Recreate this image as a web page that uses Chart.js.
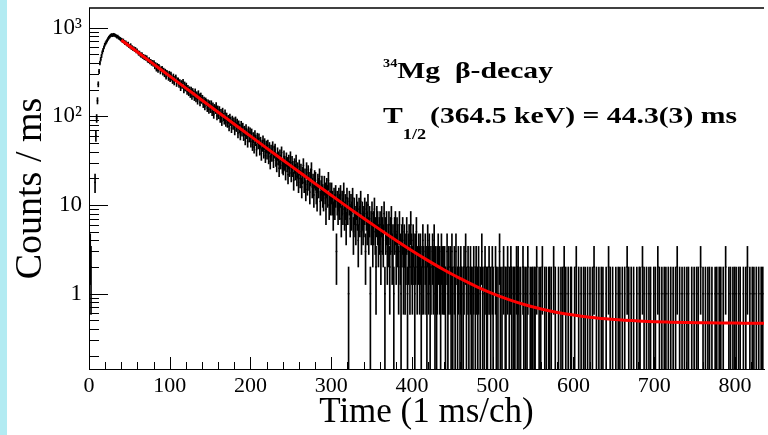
<!DOCTYPE html>
<html>
<head>
<meta charset="utf-8">
<script src="https://cdn.jsdelivr.net/npm/chart.js@4.4.1/dist/chart.umd.min.js"></script>
<style>
    html, body { margin: 0; padding: 0; background: #fff; }
    #wrap { position: relative; width: 768px; height: 435px; background: #b2ebf2; overflow: hidden; }
    #decayChart { position: absolute; left: 7px; top: 0; background: #fff; }
</style>
</head>
<body>
<div id="wrap"><canvas id="decayChart" width="761" height="435"></canvas></div>
<script>
"use strict";

// counts per 1 ms channel, channel 0 .. 835
var countsPerMs = [
    3, 3, 2, 0, 0, 0, 0, 18, 60, 95,
    150, 230, 320, 400, 440, 480, 525, 560, 600, 640,
    665, 690, 715, 745, 770, 790, 810, 822, 830, 818,
    834, 826, 815, 808, 790, 795, 772, 760, 748, 735,
    731, 702, 718, 690, 668, 684, 655, 641, 662, 620,
    612, 634, 590, 601, 572, 585, 560, 574, 541, 552,
    528, 509, 521, 496, 484, 502, 470, 478, 455, 468,
    447, 461, 430, 422, 438, 409, 418, 395, 407, 386,
    405, 362, 384, 341, 375, 330, 366, 352, 318, 340,
    348, 309, 331, 296, 322, 278, 312, 301, 270, 305,
    262, 298, 271, 250, 283, 241, 266, 276, 232, 255,
    255, 226, 243, 209, 238, 221, 246, 198, 229, 207,
    222, 190, 209, 184, 201, 176, 199, 168, 192, 180,
    163, 190, 158, 176, 149, 181, 166, 143, 170, 152,
    160, 137, 152, 129, 149, 143, 124, 141, 119, 138,
    121, 138, 112, 130, 105, 125, 118, 131, 101, 120,
    104, 118, 95, 109, 88, 113, 99, 91, 108, 86,
    99, 84, 93, 77, 96, 88, 74, 91, 80, 87,
    70, 89, 76, 84, 65, 80, 73, 62, 79, 68,
    75, 61, 69, 55, 72, 64, 52, 68, 59, 66,
    52, 64, 48, 58, 45, 61, 54, 42, 57, 50,
    56, 43, 51, 38, 47, 53, 40, 49, 36, 46,
    39, 47, 35, 44, 31, 41, 37, 45, 32, 40,
    42, 33, 29, 38, 34, 26, 36, 31, 39, 28,
    27, 35, 30, 24, 33, 29, 22, 31, 26, 34,
    23, 30, 26, 19, 28, 24, 31, 21, 25, 18,
    27, 20, 24, 16, 22, 28, 18, 21, 15, 25,
    17, 23, 19, 14, 21, 25, 16, 18, 13, 20,
    19, 14, 12, 18, 16, 21, 11, 15, 17, 13,
    12, 17, 14, 9, 16, 13, 19, 10, 14, 11,
    14, 11, 8, 12, 10, 13, 3, 11, 9, 12,
    10, 13, 7, 11, 9, 14, 8, 10, 6, 12,
    9, 1, 11, 7, 10, 8, 12, 5, 9, 7,
    6, 10, 8, 4, 9, 7, 11, 5, 8, 6,
    7, 9, 3, 8, 6, 10, 5, 7, 1, 6,
    8, 4, 6, 9, 5, 2, 7, 6, 4, 5,
    6, 3, 7, 5, 4, 8, 1, 5, 6, 3,
    4, 6, 2, 5, 7, 3, 4, 1, 5, 6,
    3, 5, 4, 2, 6, 3, 1, 4, 5, 2,
    4, 2, 3, 5, 1, 3, 4, 2, 6, 3,
    2, 4, 3, 1, 3, 5, 2, 0, 3, 2,
    3, 1, 2, 4, 2, 0, 3, 2, 1, 4,
    2, 3, 1, 2, 0, 3, 2, 4, 1, 2,
    1, 2, 3, 0, 2, 1, 3, 2, 0, 2,
    2, 1, 0, 3, 1, 2, 0, 2, 1, 3,
    1, 0, 2, 1, 3, 0, 1, 2, 0, 1,
    2, 1, 0, 1, 2, 0, 3, 1, 0, 2,
    1, 0, 2, 1, 0, 1, 2, 0, 1, 2,
    0, 1, 2, 0, 1, 0, 3, 1, 0, 1,
    2, 0, 1, 1, 0, 2, 0, 1, 0, 2,
    1, 0, 0, 2, 1, 0, 1, 0, 3, 1,
    0, 1, 0, 2, 0, 1, 1, 0, 2, 0,
    1, 0, 2, 1, 0, 1, 1, 1, 0, 2,
    1, 2, 1, 0, 1, 0, 0, 2, 1, 0,
    1, 0, 1, 2, 0, 0, 1, 0, 1, 1,
    0, 1, 1, 0, 2, 0, 0, 1, 0, 1,
    0, 2, 0, 0, 1, 0, 1, 0, 0, 1,
    1, 0, 1, 0, 0, 2, 0, 1, 0, 0,
    0, 1, 0, 0, 1, 0, 1, 0, 2, 0,
    1, 0, 0, 1, 0, 0, 1, 1, 0, 0,
    0, 1, 0, 2, 0, 0, 1, 0, 0, 1,
    0, 0, 1, 0, 1, 0, 0, 1, 0, 0,
    1, 0, 0, 1, 0, 2, 0, 0, 1, 0,
    0, 1, 0, 0, 1, 0, 1, 0, 0, 0,
    1, 0, 0, 2, 0, 1, 0, 0, 1, 0,
    0, 0, 1, 0, 0, 1, 0, 1, 0, 0,
    1, 0, 0, 1, 0, 0, 2, 0, 1, 0,
    0, 1, 0, 0, 1, 0, 0, 0, 1, 0,
    0, 1, 1, 0, 0, 2, 0, 1, 0, 0,
    1, 0, 0, 1, 0, 1, 0, 0, 0, 1,
    0, 1, 0, 0, 2, 0, 1, 0, 0, 1,
    0, 0, 1, 0, 1, 0, 0, 1, 0, 0,
    1, 0, 0, 1, 0, 0, 1, 0, 2, 0,
    0, 1, 0, 0, 1, 0, 0, 1, 0, 0,
    1, 0, 1, 0, 0, 0, 1, 0, 0, 1,
    0, 0, 1, 0, 1, 0, 0, 2, 0, 0,
    1, 0, 0, 1, 0, 0, 1, 0, 1, 0,
    0, 1, 0, 0, 0, 1, 0, 1, 0, 0,
    1, 0, 1, 0, 0, 1, 0, 0, 2, 0,
    0, 0, 1, 0, 1, 0, 0, 1, 0, 1,
    0, 1, 0, 0, 1, 0, 1, 0, 0, 0,
    1, 0, 0, 1, 0, 2, 0, 0, 1, 0,
    0, 1, 0, 1, 0, 0, 1, 0, 0, 1,
    0, 0, 1, 0, 1, 0
];

// fitted decay curve
var fitTime = [40, 60, 80, 100, 120, 140, 160, 180, 200, 220, 240, 260, 280, 300, 320, 340, 360, 380, 400,
    420, 440, 460, 480, 500, 520, 540, 560, 580, 600, 620, 640, 660, 680, 700, 720, 740, 760, 780, 800, 820, 836];
var fitCounts = [724.5, 530, 387.7, 283.6, 207.6, 151.9, 111.2, 81.5, 59.7, 43.8, 32.2, 23.7, 17.4, 12.9, 9.53, 7.09, 5.31, 4.01, 3.05,
    2.36, 1.85, 1.48, 1.20, 1.00, 0.857, 0.750, 0.672, 0.615, 0.574, 0.543, 0.521, 0.504, 0.493, 0.484, 0.478, 0.473, 0.470, 0.467, 0.466, 0.464, 0.463];

var xMajorTicks = [0, 100, 200, 300, 400, 500, 600, 700, 800];
var xMinorTicks = [20, 40, 60, 80, 120, 140, 160, 180, 220, 240, 260, 280, 320, 340, 360, 380, 420, 440, 460, 480,
    520, 540, 560, 580, 620, 640, 660, 680, 720, 740, 760, 780, 820];
var yMajorTicks = [1, 10, 100, 1000];
var yTickLabels = ["1", "10", "10\u00b2", "10\u00b3"];
var yMinorTicks = [0.2, 0.3, 0.4, 0.5, 0.6, 0.7, 0.8, 0.9, 2, 3, 4, 5, 6, 7, 8, 9,
    20, 30, 40, 50, 60, 70, 80, 90, 200, 300, 400, 500, 600, 700, 800, 900];

var xTitle = "Time (1 ms/ch)";
var yTitle = "Counts / ms";
var nucleusMass = "34";
var decayLabel = "Mg  \u03b2-decay";
var halfLifeSymbol = "T";
var halfLifeSub = "1/2";
var halfLifeText = "(364.5 keV) = 44.3(3) ms";

var serif = "'Liberation Serif', 'Times New Roman', serif";

// error bars and markers
var errorBars = [];
var markers = [];
for (var i = 0; i < countsPerMs.length; i++) {
    var n = countsPerMs[i];
    if (n <= 0) continue;
    var err = Math.sqrt(n);
    errorBars.push({ x: i + 0.5, y: [Math.max(n - err, 0.05), n + err] });
    markers.push({ x: i + 0.5, y: n });
}
var fitPoints = fitTime.map(function (t, k) { return { x: t, y: fitCounts[k] }; });

var rootAxes = {
    id: 'rootAxes',
    afterDatasetsDraw: function (chart) {
        var ctx = chart.ctx, area = chart.chartArea;
        var xs = chart.scales.x, ys = chart.scales.y;
        ctx.save();
        ctx.strokeStyle = '#000';
        ctx.lineWidth = 1;
        ctx.beginPath();
        xMajorTicks.forEach(function (v) {
            var px = Math.round(xs.getPixelForValue(v)) + 0.5;
            ctx.moveTo(px, area.bottom); ctx.lineTo(px, area.bottom - 12);
        });
        xMinorTicks.forEach(function (v) {
            var px = Math.round(xs.getPixelForValue(v)) + 0.5;
            ctx.moveTo(px, area.bottom); ctx.lineTo(px, area.bottom - 7);
        });
        yMajorTicks.forEach(function (v) {
            var py = Math.round(ys.getPixelForValue(v)) + 0.5;
            ctx.moveTo(area.left, py); ctx.lineTo(area.left + 19, py);
        });
        yMinorTicks.forEach(function (v) {
            var py = Math.round(ys.getPixelForValue(v)) + 0.5;
            ctx.moveTo(area.left, py); ctx.lineTo(area.left + 10, py);
        });
        ctx.stroke();
        // frame top
        ctx.lineWidth = 1.5;
        ctx.beginPath();
        ctx.moveTo(area.left, area.top);
        ctx.lineTo(area.right, area.top);
        ctx.stroke();
        ctx.restore();
    }
};

function stretchedText(ctx, text, x, y, size, stretch) {
    ctx.save();
    ctx.font = 'bold ' + size + 'px ' + serif;
    ctx.translate(x, y);
    ctx.scale(stretch, 1);
    ctx.fillText(text, 0, 0);
    var w = ctx.measureText(text).width * stretch;
    ctx.restore();
    return x + w;
}

var decayInfo = {
    id: 'decayInfo',
    afterDraw: function (chart) {
        var ctx = chart.ctx;
        ctx.save();
        ctx.fillStyle = '#000';
        ctx.textBaseline = 'alphabetic';
        var x = stretchedText(ctx, nucleusMass, 376, 67, 13, 1.1);
        stretchedText(ctx, decayLabel, x, 78, 23, 1.29);
        x = stretchedText(ctx, halfLifeSymbol, 376, 123, 23, 1.29);
        x = stretchedText(ctx, halfLifeSub, x, 139, 14, 1.3);
        stretchedText(ctx, halfLifeText, x + 4, 123, 23, 1.29);
        ctx.restore();
    }
};

var chart = new Chart(document.getElementById('decayChart').getContext('2d'), {
    type: 'bar',
    data: {
        datasets: [{
            type: 'line',
            label: 'fit',
            data: fitPoints,
            borderColor: '#ff0000',
            borderWidth: 3,
            pointRadius: 0,
            cubicInterpolationMode: 'monotone',
            fill: false,
            order: 0
        }, {
            type: 'line',
            label: 'counts',
            data: markers,
            showLine: false,
            pointRadius: 0.9,
            pointBorderWidth: 0,
            pointBackgroundColor: '#000',
            order: 1
        }, {
            type: 'bar',
            label: 'errors',
            data: errorBars,
            backgroundColor: '#000',
            borderWidth: 0,
            barThickness: 1,
            grouped: false,
            clip: 0,
            order: 2
        }]
    },
    options: {
        responsive: false,
        devicePixelRatio: 1,
        animation: false,
        events: [],
        layout: { padding: { top: 8, left: 0, right: 0, bottom: 0 } },
        plugins: { legend: { display: false }, tooltip: { enabled: false } },
        scales: {
            x: {
                type: 'linear',
                min: 0,
                max: 836,
                offset: false,
                afterFit: function (s) {
                    s.height = 66;
                    s.paddingLeft = 0;
                    s.paddingRight = 0;
                },
                afterBuildTicks: function (s) {
                    s.ticks = xMajorTicks.map(function (v) { return { value: v }; });
                },
                grid: { display: false, drawTicks: false },
                border: { display: true, color: '#000', width: 1 },
                ticks: {
                    autoSkip: false,
                    maxRotation: 0,
                    padding: 4,
                    color: '#000',
                    font: { family: serif, size: 22 }
                },
                title: {
                    display: true,
                    text: xTitle,
                    color: '#000',
                    font: { family: serif, size: 35 },
                    padding: { top: 0, bottom: 1 }
                }
            },
            y: {
                type: 'logarithmic',
                min: 0.1416,
                max: 1663,
                afterFit: function (s) {
                    s.width = 82;
                    s.paddingTop = 0;
                    s.paddingBottom = 0;
                },
                afterBuildTicks: function (s) {
                    s.ticks = yMajorTicks.map(function (v) { return { value: v }; });
                },
                grid: { display: false, drawTicks: false },
                border: { display: true, color: '#000', width: 1 },
                ticks: {
                    autoSkip: false,
                    padding: 7,
                    color: '#000',
                    font: { family: serif, size: 23 },
                    callback: function (value, index) { return yTickLabels[index]; }
                },
                title: {
                    display: true,
                    text: yTitle,
                    color: '#000',
                    font: { family: serif, size: 38 },
                    padding: { top: 1, bottom: 0 }
                }
            }
        }
    },
    plugins: [rootAxes, decayInfo]
});
</script>
</body>
</html>
